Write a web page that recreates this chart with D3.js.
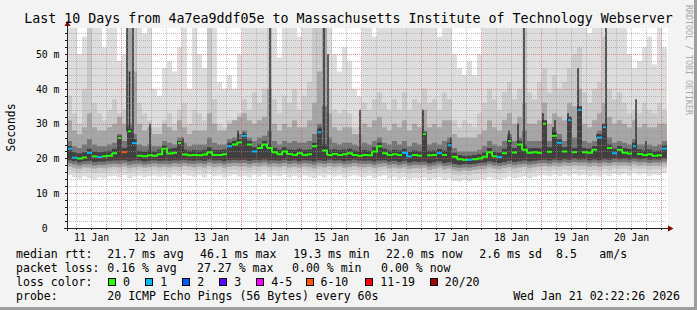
<!DOCTYPE html>
<html>
<head>
<meta charset="utf-8">
<script src="https://cdn.jsdelivr.net/npm/d3@7"></script>
<style>
  html, body { margin: 0; padding: 0; background: #f3f3f3; }
  svg { display: block; font-family: "DejaVu Sans Mono", monospace; }
</style>
</head>
<body>
<script>
// 2-hour steps, 10 days, starting Jan 11 02:22 UTC
const median = [
  22.8, 20.2, 20.0, 20.3, 21.6, 20.6, 20.4, 20.6, 20.8, 21.5, 25.9,
  21.8, 27.8, 24.4, 20.8, 20.6, 20.9, 20.8, 21.2, 22.8, 21.4, 21.6, 24.4,
  21.1, 20.9, 21.0, 20.9, 21.1, 21.8, 21.0, 21.0, 21.2, 23.5, 24.0, 24.6,
  26.5, 24.0, 22.0, 23.0, 24.0, 23.0, 21.8, 21.2, 22.0, 21.3, 21.0, 21.5,
  21.0, 21.2, 23.5, 27.5, 22.3, 21.0, 21.3, 21.0, 21.2, 21.5, 21.0, 20.8,
  21.0, 20.9, 22.0, 23.5, 21.5, 21.0, 21.2, 21.0, 21.6, 20.6, 21.0, 20.8,
  27.0, 20.9, 21.0, 21.5, 21.0, 23.8, 20.5, 19.8, 19.6, 19.6, 19.8, 20.0,
  20.5, 21.8, 20.6, 20.4, 21.5, 25.0, 21.7, 24.0, 22.5, 21.6, 21.8, 21.6,
  30.0, 21.9, 26.5, 24.5, 22.0, 31.0, 21.8, 34.0, 21.8, 21.6, 22.5, 26.0,
  29.0, 23.0, 21.5, 22.5, 21.6, 21.4, 23.5, 21.3, 21.0, 21.2, 20.8, 20.9, 22.8
];
// lost pings out of 20 per step
const loss = [
  1, 1, 0, 0, 1, 0, 1, 0, 0, 0, 0,
  7, 0, 1, 0, 0, 0, 0, 0, 0, 0, 0, 0,
  0, 0, 0, 0, 0, 0, 0, 0, 0, 1, 0, 0,
  1, 0, 1, 0, 0, 0, 0, 0, 0, 0, 0, 0,
  0, 0, 0, 1, 0, 0, 0, 0, 0, 0, 0, 0,
  0, 0, 0, 0, 0, 0, 0, 0, 1, 1, 0, 0,
  0, 0, 0, 1, 0, 1, 0, 0, 0, 1, 0, 0,
  0, 0, 0, 1, 0, 0, 0, 0, 0, 0, 0, 0,
  0, 0, 0, 1, 0, 1, 0, 1, 0, 0, 0, 1,
  1, 0, 1, 0, 0, 0, 1, 0, 0, 0, 0, 0, 1
];
// smoke: ping spread, outer to inner
const minPing = [
  15.2, 14.6, 14.2, 14.8, 14.4, 14.0, 14.6, 14.3, 14.8, 15.0, 14.5,
  15.2, 14.4, 14.8, 15.0, 14.6, 14.9, 15.1, 14.7, 15.0, 14.6, 15.2, 14.9,
  15.3, 15.0, 14.7, 15.2, 14.6, 15.4, 14.9, 15.1, 14.5, 15.0, 15.3, 14.8,
  15.0, 14.6, 15.2, 14.8, 15.4, 14.7, 15.1, 14.9, 15.3, 14.6, 15.0, 14.5,
  15.1, 14.7, 14.4, 15.0, 14.6, 15.2, 14.8, 15.1, 14.5, 14.9, 15.2, 14.8,
  14.6, 15.0, 14.4, 14.8, 15.1, 14.3, 14.7, 14.2, 14.6, 14.0, 14.4, 14.2,
  14.5, 13.8, 14.2, 14.6, 13.9, 14.3, 13.6, 13.4, 13.8, 13.5, 13.9, 14.1,
  14.0, 14.6, 14.2, 13.9, 14.4, 14.8, 14.3, 14.6, 14.9, 14.4, 14.7, 15.0,
  15.2, 14.8, 15.3, 14.9, 15.4, 15.0, 15.5, 15.1, 15.3, 14.9, 15.2, 14.8,
  15.4, 15.0, 15.6, 15.2, 15.5, 15.1, 15.7, 15.3, 15.6, 15.0, 15.4, 15.2, 15.8
];
const maxPing = [
  60, 60, 50, 55, 60, 60, 60, 52, 60, 60, 48,
  50, 60, 60, 60, 56, 60, 40, 38, 46, 48, 45, 52,
  60, 40, 60, 50, 46, 60, 60, 42, 40, 44, 40, 50,
  60, 60, 60, 60, 60, 60, 58, 49, 60, 60, 60, 55,
  60, 60, 60, 60, 60, 60, 50, 45, 52, 48, 40, 38,
  60, 60, 55, 60, 60, 60, 60, 60, 60, 58, 60, 60,
  60, 60, 60, 55, 60, 60, 50, 46, 44, 48, 44, 50,
  60, 60, 60, 58, 60, 60, 60, 60, 60, 60, 60, 60,
  60, 60, 60, 60, 60, 60, 60, 60, 60, 56, 60, 60,
  60, 60, 60, 60, 58, 50, 46, 48, 52, 55, 47, 58, 52
];
const lo2 = [
  16.6, 16.2, 15.9, 16.3, 16.1, 15.8, 16.2, 16.0, 16.3, 16.5, 16.2,
  16.6, 16.0, 16.3, 16.5, 16.2, 16.4, 16.6, 16.3, 16.5, 16.2, 16.6, 16.4,
  16.7, 16.5, 16.3, 16.6, 16.2, 16.8, 16.4, 16.6, 16.1, 16.5, 16.7, 16.4,
  16.5, 16.2, 16.7, 16.4, 16.8, 16.3, 16.6, 16.4, 16.7, 16.2, 16.5, 16.1,
  16.6, 16.3, 16.0, 16.5, 16.2, 16.7, 16.4, 16.6, 16.1, 16.4, 16.7, 16.4,
  16.2, 16.5, 16.0, 16.4, 16.6, 16.0, 16.3, 15.9, 16.2, 15.7, 16.0, 15.9,
  16.1, 15.5, 15.8, 16.2, 15.6, 15.9, 15.3, 15.1, 15.4, 15.2, 15.5, 15.7,
  15.7, 16.2, 15.8, 15.6, 16.0, 16.4, 15.9, 16.2, 16.5, 16.0, 16.3, 16.6,
  16.7, 16.4, 16.8, 16.5, 16.9, 16.6, 17.0, 16.7, 16.8, 16.5, 16.7, 16.4,
  16.9, 16.6, 17.1, 16.8, 17.0, 16.7, 17.2, 16.9, 17.1, 16.6, 16.9, 16.8, 17.3
];
const hi2 = [
  38, 33, 30, 40, 60, 36, 33, 31, 34, 37, 33,
  34, 60, 60, 36, 33, 31, 29, 29, 31, 33, 30, 34,
  36, 30, 34, 33, 31, 60, 37, 30, 29, 31, 31, 33,
  37, 34, 39, 36, 40, 60, 37, 33, 38, 36, 40, 34,
  38, 42, 60, 60, 60, 40, 34, 33, 34, 33, 29, 29,
  36, 34, 37, 39, 36, 34, 37, 34, 39, 34, 37, 36,
  40, 36, 37, 34, 39, 37, 31, 29, 31, 30, 29, 33,
  36, 40, 37, 34, 39, 42, 37, 40, 60, 39, 37, 42,
  46, 39, 44, 40, 42, 46, 50, 52, 39, 36, 40, 42,
  55, 40, 37, 39, 36, 33, 34, 33, 36, 34, 33, 36, 34
];
const lo3 = [
  17.7, 17.3, 17.0, 17.4, 17.3, 17.0, 17.3, 17.2, 17.4, 17.6, 17.4,
  17.7, 17.2, 17.4, 17.6, 17.3, 17.5, 17.7, 17.4, 17.6, 17.4, 17.7, 17.5,
  17.8, 17.6, 17.4, 17.7, 17.4, 17.9, 17.5, 17.7, 17.3, 17.6, 17.8, 17.6,
  17.7, 17.4, 17.8, 17.6, 17.9, 17.5, 17.7, 17.5, 17.8, 17.4, 17.6, 17.3,
  17.7, 17.5, 17.2, 17.6, 17.4, 17.8, 17.5, 17.7, 17.3, 17.5, 17.8, 17.5,
  17.4, 17.6, 17.2, 17.5, 17.7, 17.2, 17.4, 17.1, 17.4, 16.9, 17.2, 17.1,
  17.3, 16.7, 17.0, 17.4, 16.8, 17.1, 16.5, 16.3, 16.6, 16.4, 16.7, 16.9,
  16.9, 17.4, 17.0, 16.8, 17.2, 17.5, 17.1, 17.4, 17.6, 17.2, 17.5, 17.7,
  17.8, 17.6, 17.9, 17.7, 18.0, 17.8, 18.1, 17.9, 18.0, 17.7, 17.9, 17.6,
  18.0, 17.8, 18.2, 18.0, 18.1, 17.9, 18.3, 18.0, 18.2, 17.8, 18.0, 17.9, 18.3
];
const hi3 = [
  31, 28, 27, 29, 33, 29, 28, 28, 29, 30, 32,
  30, 60, 45, 30, 28, 29, 27, 27, 30, 29, 28, 31,
  29, 27, 28, 28, 28, 33, 30, 28, 28, 30, 31, 32,
  33, 31, 30, 31, 32, 40, 30, 28, 30, 29, 31, 29,
  29, 31, 36, 45, 60, 33, 29, 28, 29, 29, 27, 27,
  30, 29, 31, 32, 29, 28, 30, 29, 31, 28, 30, 29,
  34, 29, 30, 29, 31, 31, 27, 26, 26, 26, 26, 27,
  28, 31, 29, 28, 31, 33, 30, 32, 36, 30, 30, 31,
  36, 30, 33, 32, 31, 36, 35, 40, 30, 29, 31, 33,
  36, 32, 30, 31, 30, 29, 31, 29, 30, 29, 29, 30, 30
];
const lo4 = [
  18.6, 18.3, 18.0, 18.3, 18.3, 18.0, 18.2, 18.2, 18.4, 18.5, 18.4,
  18.6, 18.2, 18.4, 18.5, 18.2, 18.4, 18.6, 18.4, 18.5, 18.3, 18.6, 18.5,
  18.7, 18.5, 18.4, 18.6, 18.4, 18.8, 18.5, 18.6, 18.3, 18.6, 18.7, 18.6,
  18.7, 18.4, 18.7, 18.6, 18.8, 18.5, 18.6, 18.5, 18.7, 18.4, 18.6, 18.3,
  18.6, 18.5, 18.2, 18.6, 18.4, 18.7, 18.5, 18.6, 18.3, 18.5, 18.7, 18.5,
  18.4, 18.5, 18.2, 18.5, 18.6, 18.2, 18.4, 18.1, 18.4, 17.9, 18.2, 18.1,
  18.2, 17.7, 18.0, 18.3, 17.8, 18.0, 17.5, 17.3, 17.5, 17.4, 17.6, 17.8,
  17.9, 18.3, 18.0, 17.8, 18.1, 18.4, 18.1, 18.3, 18.5, 18.2, 18.4, 18.6,
  18.7, 18.5, 18.8, 18.6, 18.9, 18.7, 19.0, 18.8, 18.9, 18.6, 18.8, 18.6,
  18.9, 18.7, 19.0, 18.9, 19.0, 18.8, 19.1, 18.9, 19.0, 18.7, 18.9, 18.8, 19.1
];
const hi4 = [
  25, 23.5, 23, 24, 25.5, 24, 23.5, 23.5, 24, 24.5, 27,
  25, 30, 27, 24, 23.5, 24, 23.5, 23.5, 25, 24.5, 24, 26,
  24.5, 23.5, 24, 24, 24, 26, 24.5, 24, 24, 25.5, 26, 27,
  28, 26, 25, 26, 26.5, 28, 25, 24, 25, 24.5, 25, 24.5,
  24.5, 25, 27, 30, 35, 26, 24.5, 24, 24.5, 24.5, 24, 23.5,
  24.5, 24, 25, 26, 24.5, 24, 25, 24, 25, 23.5, 24.5, 24,
  28, 24, 24.5, 24, 25, 26, 23, 22, 22, 22, 22, 22.5,
  23.5, 25, 24, 23.5, 25, 27, 25, 26, 28, 25, 25, 25,
  30, 25, 28, 27, 25, 32, 26, 34, 25, 24.5, 25, 28,
  30, 26, 24.5, 25, 24.5, 24, 25.5, 24, 24, 24, 23.5, 24, 25
];
const lo5 = [
  19.5, 19.2, 18.9, 19.2, 19.3, 19.0, 19.1, 19.1, 19.3, 19.4, 19.4,
  19.5, 19.2, 19.4, 19.4, 19.1, 19.3, 19.5, 19.3, 19.4, 19.3, 19.5, 19.4,
  19.6, 19.4, 19.3, 19.5, 19.3, 19.7, 19.4, 19.5, 19.2, 19.5, 19.6, 19.5,
  19.6, 19.3, 19.6, 19.5, 19.7, 19.4, 19.5, 19.4, 19.6, 19.3, 19.5, 19.2,
  19.5, 19.4, 19.1, 19.5, 19.3, 19.6, 19.4, 19.5, 19.2, 19.4, 19.6, 19.4,
  19.3, 19.4, 19.1, 19.4, 19.5, 19.1, 19.3, 19.0, 19.3, 18.8, 19.1, 19.0,
  19.1, 18.6, 18.9, 19.2, 18.7, 18.9, 18.4, 18.2, 18.4, 18.3, 18.5, 18.7,
  18.8, 19.2, 18.9, 18.7, 19.0, 19.3, 19.0, 19.2, 19.4, 19.1, 19.3, 19.5,
  19.6, 19.4, 19.7, 19.5, 19.8, 19.6, 19.9, 19.7, 19.8, 19.5, 19.7, 19.5,
  19.8, 19.6, 19.9, 19.8, 19.9, 19.7, 20.0, 19.8, 19.9, 19.6, 19.8, 19.7, 20.0
];
const hi5 = [
  23.6, 21.8, 21.4, 21.8, 22.8, 22.0, 21.8, 22.0, 22.2, 22.8, 26.5,
  23.0, 28.5, 25.5, 22.2, 22.0, 22.3, 22.0, 22.5, 23.8, 22.8, 23.0, 25.0,
  22.5, 22.2, 22.4, 22.3, 22.5, 23.2, 22.4, 22.4, 22.6, 24.5, 25.0, 25.5,
  27.0, 25.0, 23.2, 24.0, 25.0, 24.0, 23.0, 22.5, 23.2, 22.6, 22.4, 22.8,
  22.4, 22.6, 24.5, 28.5, 24.0, 22.5, 22.6, 22.4, 22.6, 22.8, 22.3, 22.1,
  22.4, 22.2, 23.2, 24.5, 22.8, 22.3, 22.5, 22.3, 22.8, 21.9, 22.3, 22.1,
  27.5, 22.2, 22.3, 22.7, 22.3, 24.5, 21.6, 21.0, 20.8, 20.8, 21.0, 21.2,
  21.7, 23.0, 21.9, 21.7, 22.8, 26.0, 23.0, 25.0, 24.0, 22.9, 23.0, 22.9,
  31.0, 23.2, 27.5, 25.5, 23.2, 32.0, 23.0, 35.0, 23.0, 22.8, 23.6, 27.0,
  30.0, 24.0, 22.8, 23.6, 22.9, 22.7, 24.5, 22.6, 22.3, 22.5, 22.1, 22.2, 23.8
];
// short dark streaks (hours from start, top in ms)
const streakHours = [20.4, 24, 25, 26.4, 33.2, 46.4, 68.4, 70.8, 81.2, 101.2, 102.8, 104.4, 117.2,
  142.4, 153.6, 176.8, 180.4, 182.8, 190.4, 194.4, 195.2, 200.4, 204.4, 212, 215.6, 227.6, 231.6];
const streakTops = [26, 57.5, 45, 57.5, 30, 26, 28, 27.5, 57.5, 29, 57.5, 50, 34,
  34, 26, 28, 30, 57.5, 33, 29, 31, 33, 46, 27, 57.5, 37, 25];

const yTicks = [0, 10, 20, 30, 40, 50];
const dayLabels = [11, 12, 13, 14, 15, 16, 17, 18, 19, 20];
const lossLabels = ['0', '1', '2', '3', '4-5', '6-10', '11-19', '20/20'];
const lossColors = ['#26ff00', '#00b8ff', '#0059ff', '#5e00ff', '#ff00ff', '#ff5500', '#ff0000', '#a10000'];
const rttStats = ['21.7 ms avg', '46.1 ms max', '19.3 ms min', '22.0 ms now', '2.6 ms sd', '8.5', 'am/s'];
const lossStats = ['0.16 % avg', '27.27 % max', '0.00 % min', '0.00 % now'];

const width = 697, height = 310;
const plot = { left: 67, right: 667, top: 28, bottom: 228 };
const end = new Date(Date.UTC(2026, 0, 21, 2, 22, 26));
const start = d3.utcDay.offset(end, -10);
const stepMs = 2 * 3600 * 1000;

const x = d3.scaleUtc().domain([start, end]).range([plot.left, plot.right]);
const y = d3.scaleLinear().domain([0, 57.5]).range([plot.bottom, plot.top]);
const tAt = i => new Date(start.getTime() + i * stepMs);

const svg = d3.select('body').append('svg').attr('width', width).attr('height', height);

// frame
svg.append('rect').attr('width', width).attr('height', height).attr('fill', '#f3f3f3');
svg.append('rect').attr('x', width - 3).attr('y', 0).attr('width', 3).attr('height', height).attr('fill', '#9e9e9e');
svg.append('rect').attr('x', 0).attr('y', height - 3).attr('width', width).attr('height', 3).attr('fill', '#9e9e9e');
svg.append('rect').attr('x', plot.left).attr('y', plot.top)
  .attr('width', plot.right - plot.left + 1).attr('height', plot.bottom - plot.top).attr('fill', '#fff');

svg.append('clipPath').attr('id', 'clip').append('rect')
  .attr('x', plot.left).attr('y', plot.top)
  .attr('width', plot.right - plot.left).attr('height', plot.bottom - plot.top);

// smoke
const idx = d3.range(median.length + 1);
const at = (arr, i) => arr[Math.min(i, arr.length - 1)];
const layers = [
  { lo: minPing, hi: maxPing, color: '#dddddd' },
  { lo: lo2, hi: hi2, color: '#cacaca' },
  { lo: lo3, hi: hi3, color: '#a6a6a6' },
  { lo: lo4, hi: hi4, color: '#767676' },
  { lo: lo5, hi: hi5, color: '#404040' },
];
const gSmoke = svg.append('g').attr('clip-path', 'url(#clip)');
layers.forEach(l => {
  const area = d3.area()
    .curve(d3.curveStepAfter)
    .x(i => x(tAt(i)))
    .y0(i => y(at(l.lo, i)))
    .y1(i => y(at(l.hi, i)));
  gSmoke.append('path').attr('d', area(idx)).attr('fill', l.color);
});

gSmoke.selectAll('rect.streak')
  .data(streakHours)
  .enter()
  .append('rect')
  .attr('class', 'streak')
  .attr('x', h => x(new Date(start.getTime() + h * 3600e3)) - 0.75)
  .attr('width', 1.5)
  .attr('y', (h, k) => y(streakTops[k]))
  .attr('height', (h, k) => y(median[Math.min(119, Math.floor(h / 2))]) - y(streakTops[k]))
  .attr('fill', '#303030');

// grid
const gGrid = svg.append('g').attr('shape-rendering', 'crispEdges');
const minorY = d3.range(2, 57, 2).filter(v => v % 10 !== 0);
const majorY = yTicks.filter(v => v > 0);
gGrid.selectAll('line.my').data(minorY).enter().append('line')
  .attr('x1', plot.left).attr('x2', plot.right)
  .attr('y1', v => Math.round(y(v)) + 0.5).attr('y2', v => Math.round(y(v)) + 0.5)
  .attr('stroke', 'rgba(143,143,143,0.55)').attr('stroke-dasharray', '1,1');
const hours6 = d3.utcHour.every(6).range(start, end).filter(d => d.getUTCHours() !== 0);
gGrid.selectAll('line.mx').data(hours6).enter().append('line')
  .attr('x1', d => Math.round(x(d)) + 0.5).attr('x2', d => Math.round(x(d)) + 0.5)
  .attr('y1', plot.top).attr('y2', plot.bottom)
  .attr('stroke', 'rgba(143,143,143,0.55)').attr('stroke-dasharray', '1,1');
gGrid.selectAll('line.My').data(majorY).enter().append('line')
  .attr('x1', plot.left).attr('x2', plot.right)
  .attr('y1', v => Math.round(y(v)) + 0.5).attr('y2', v => Math.round(y(v)) + 0.5)
  .attr('stroke', 'rgba(222,80,80,0.6)').attr('stroke-dasharray', '1,1');
gGrid.selectAll('line.Mx').data(d3.utcDay.range(start, end)).enter().append('line')
  .attr('x1', d => Math.round(x(d)) + 0.5).attr('x2', d => Math.round(x(d)) + 0.5)
  .attr('y1', plot.top).attr('y2', plot.bottom)
  .attr('stroke', 'rgba(222,80,80,0.6)').attr('stroke-dasharray', '1,1');

// median, coloured by loss; lone spikes drawn as short ticks
const lossClass = l => l === 0 ? 0 : l === 1 ? 1 : l === 2 ? 2 : l === 3 ? 3 : l <= 5 ? 4 : l <= 10 ? 5 : l <= 19 ? 6 : 7;
const gMed = svg.append('g').attr('clip-path', 'url(#clip)');
median.forEach((m, i) => {
  const p = median[i - 1], n = median[i + 1];
  const x0 = x(tAt(i)), x1 = x(tAt(i + 1));
  const spike = p !== undefined && n !== undefined && m - Math.max(p, n) > 2;
  let d = spike ? `M${(x0 + x1) / 2 - 1.5},${y(m)}h3` : `M${x0},${y(m)}H${x1}`;
  if (!spike && n !== undefined && lossClass(loss[i + 1]) === lossClass(loss[i]) && Math.abs(n - m) < 2) d += `V${y(n)}`;
  gMed.append('path').attr('d', d).attr('fill', 'none')
    .attr('stroke', lossColors[lossClass(loss[i])]).attr('stroke-width', 2);
});

// axes
const axisColor = '#222';
const gAxis = svg.append('g').attr('shape-rendering', 'crispEdges');
gAxis.selectAll('line.ty').data(d3.range(0, 57, 2)).enter().append('line')
  .attr('x1', plot.left - 2).attr('x2', plot.left)
  .attr('y1', v => Math.round(y(v)) + 0.5).attr('y2', v => Math.round(y(v)) + 0.5)
  .attr('stroke', axisColor);
gAxis.selectAll('line.tx').data(d3.utcHour.every(6).range(start, end)).enter().append('line')
  .attr('x1', d => Math.round(x(d)) + 0.5).attr('x2', d => Math.round(x(d)) + 0.5)
  .attr('y1', plot.bottom).attr('y2', plot.bottom + 2)
  .attr('stroke', axisColor);
gAxis.append('line').attr('x1', plot.left - 3).attr('x2', plot.right + 1)
  .attr('y1', plot.bottom + 0.5).attr('y2', plot.bottom + 0.5).attr('stroke', axisColor);
gAxis.append('line').attr('x1', plot.left + 0.5).attr('x2', plot.left + 0.5)
  .attr('y1', plot.bottom + 3).attr('y2', plot.top - 2).attr('stroke', axisColor);
svg.append('path').attr('d', `M${plot.right + 1},${plot.bottom - 2.5}L${plot.right + 6.5},${plot.bottom + 0.5}L${plot.right + 1},${plot.bottom + 3.5}Z`)
  .attr('fill', '#7f0000');
svg.append('path').attr('d', `M${plot.left - 2.5},${plot.top - 2}L${plot.left + 0.5},${plot.top - 7}L${plot.left + 3.5},${plot.top - 2}Z`)
  .attr('fill', '#7f0000');

const yAxis = svg.append('g').attr('transform', `translate(${plot.left},0)`)
  .call(d3.axisLeft(y).tickValues(yTicks).tickSize(0).tickPadding(7.5)
    .tickFormat(v => v === 0 ? '0\u00a0\u00a0' : `${v} m`));
yAxis.select('.domain').remove();
yAxis.selectAll('text').attr('font-family', '"DejaVu Sans Mono", monospace')
  .attr('font-size', '9.8px').attr('fill', '#000').style('white-space', 'pre');

const noons = dayLabels.map(d => new Date(Date.UTC(2026, 0, d, 12)));
const xAxis = svg.append('g').attr('transform', `translate(0,${plot.bottom})`)
  .call(d3.axisBottom(x).tickValues(noons).tickSize(0).tickFormat(d3.utcFormat('%d %b')));
xAxis.select('.domain').remove();
xAxis.selectAll('text').attr('dy', null).attr('y', 13)
  .attr('font-family', '"DejaVu Sans Mono", monospace').attr('font-size', '9.8px').attr('fill', '#000');

// titles
svg.append('text').attr('x', 348.5).attr('y', 23.3).attr('text-anchor', 'middle')
  .attr('font-size', '13.3px').attr('fill', '#000')
  .text('Last 10 Days from 4a7ea9ddf05e to Massachusetts Institute of Technology Webserver');
svg.append('text').attr('transform', 'translate(10.5,127.5) rotate(-90)')
  .attr('text-anchor', 'middle').attr('dominant-baseline', 'central')
  .attr('font-size', '11.4px').attr('fill', '#000').text('Seconds');
svg.append('text').attr('transform', 'translate(688.5,5) rotate(90)')
  .attr('dominant-baseline', 'central')
  .attr('font-size', '8.3px').attr('fill', '#a8a8a8').text('RRDTOOL / TOBI OETIKER');

// legend
const legend = svg.append('g').attr('font-size', '11.55px').attr('fill', '#000');
const put = (px, py, s, anchor) => legend.append('text').attr('x', px).attr('y', py)
  .attr('text-anchor', anchor || 'start').style('white-space', 'pre').text(s);
const rttX = [107.3, 200, 293.3, 386, 479.3, 556, 599.3];
const lossX = [107.3, 197, 292, 381];
put(16, 257.7, 'median rtt:');
rttStats.forEach((s, k) => put(rttX[k], 257.7, s));
put(16, 271.8, 'packet loss:');
lossStats.forEach((s, k) => put(lossX[k], 271.8, s));
put(16, 285.8, 'loss color:');
const boxX = [108.5, 145.8, 182.8, 219.8, 256.8, 306, 365.8, 430.3];
lossLabels.forEach((s, k) => {
  legend.append('rect').attr('x', boxX[k]).attr('y', 278.5).attr('width', 7).attr('height', 7)
    .attr('fill', lossColors[k]).attr('stroke', '#000').attr('stroke-width', 1)
    .attr('shape-rendering', 'crispEdges');
  put(boxX[k] + 14.5, 285.8, s);
});
put(16, 300, 'probe:');
put(107.3, 300, '20 ICMP Echo Pings (56 Bytes) every 60s');
put(680, 300, 'Wed Jan 21 02:22:26 2026', 'end');
</script>
</body>
</html>
